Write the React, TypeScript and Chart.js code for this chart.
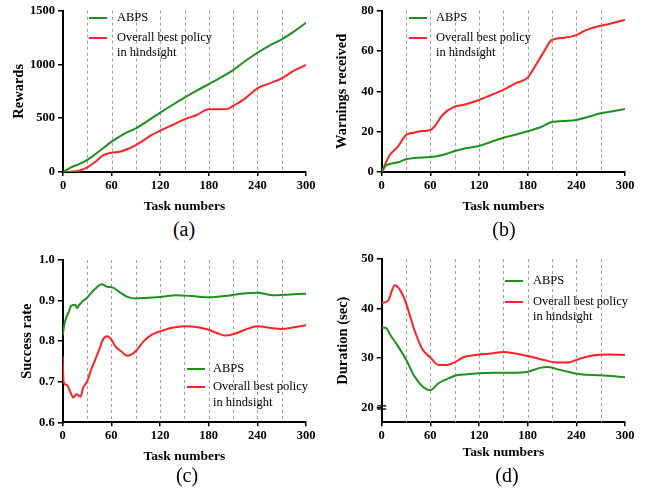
import { useEffect, useRef } from "react";
import { Chart, registerables } from "chart.js";

Chart.register(...registerables);

// ---------------- DATA ----------------
const X_TICKS = [0, 60, 120, 180, 240, 300];
const DASHED_LINES = [30, 60, 90, 120, 150, 180, 210, 240, 270];
const SERIES_NAMES = ["ABPS", "Overall best policy", "in hindsight"];

// (a) Rewards
const A_ABPS_TASKS = [0, 10, 20, 30, 45, 60, 75, 90, 105, 120, 135, 150, 165, 180, 195, 210, 225, 240, 255, 270, 285, 300];
const A_ABPS = [0, 43, 74, 112, 195, 282, 353, 406, 477, 552, 623, 691, 756, 818, 880, 948, 1032, 1109, 1176, 1233, 1305, 1388];
const A_RED_TASKS = [0, 10, 20, 30, 40, 50, 60, 70, 80, 90, 100, 110, 120, 135, 150, 165, 180, 195, 205, 210, 225, 240, 255, 270, 285, 300];
const A_RED = [0, 3, 12, 43, 96, 158, 180, 189, 214, 251, 297, 347, 384, 437, 490, 530, 583, 583, 592, 614, 685, 778, 824, 871, 942, 995];
const A_Y_TICKS = [0, 500, 1000, 1500];

// (b) Warnings received
const B_ABPS_TASKS = [0, 5, 10, 20, 30, 40, 60, 75, 90, 105, 120, 135, 150, 165, 180, 195, 210, 225, 240, 255, 270, 285, 300];
const B_ABPS = [0, 3.1, 4, 4.8, 6.3, 7, 7.4, 8.4, 10.4, 11.9, 12.9, 15, 17, 18.5, 20.2, 22.1, 24.8, 25.3, 25.8, 27.4, 29.1, 30.1, 31.2];
const B_RED_TASKS = [0, 10, 20, 30, 40, 50, 60, 65, 75, 90, 100, 120, 135, 150, 165, 180, 190, 200, 210, 225, 240, 250, 265, 280, 300];
const B_RED = [0, 8.4, 12.6, 18.3, 19.5, 20.3, 20.8, 22.5, 28.3, 32.4, 33.2, 35.7, 38.2, 40.7, 44, 46.8, 53, 59.7, 65.5, 66.6, 67.9, 70, 72, 73.4, 75.4];
const B_Y_TICKS = [0, 20, 40, 60, 80];

// (c) Success rate
const C_ABPS_TASKS = [0, 2, 5, 8, 10, 15, 18, 20, 25, 30, 40, 48, 55, 62, 70, 80, 90, 105, 120, 140, 160, 180, 200, 220, 240, 260, 280, 300];
const C_ABPS = [0.814, 0.841, 0.861, 0.874, 0.886, 0.89, 0.882, 0.888, 0.899, 0.907, 0.929, 0.94, 0.934, 0.932, 0.921, 0.909, 0.905, 0.907, 0.909, 0.913, 0.911, 0.908, 0.911, 0.917, 0.919, 0.913, 0.915, 0.917];
const C_RED_TASKS = [0, 1, 5, 10, 13, 17, 22, 25, 30, 35, 40, 45, 50, 55, 60, 65, 72, 80, 90, 100, 110, 120, 135, 150, 165, 180, 190, 200, 210, 225, 240, 255, 270, 285, 300];
const C_RED = [0.762, 0.7, 0.692, 0.672, 0.661, 0.669, 0.663, 0.684, 0.7, 0.729, 0.754, 0.779, 0.805, 0.812, 0.804, 0.787, 0.775, 0.764, 0.775, 0.8, 0.816, 0.824, 0.833, 0.837, 0.835, 0.828, 0.82, 0.814, 0.817, 0.828, 0.837, 0.833, 0.83, 0.834, 0.839];
const C_Y_TICKS = [0.6, 0.7, 0.8, 0.9, 1.0];

// (d) Duration (sec)
const D_ABPS_TASKS = [0, 5, 10, 20, 30, 40, 50, 60, 70, 80, 90, 105, 120, 140, 160, 180, 195, 205, 215, 230, 245, 270, 300];
const D_ABPS = [36.1, 36.1, 34.8, 32.4, 29.7, 26.4, 24.3, 23.5, 24.9, 25.7, 26.4, 26.7, 26.9, 27.0, 27.0, 27.2, 28.0, 28.2, 27.8, 27.2, 26.7, 26.5, 26.1];
const D_RED_TASKS = [0, 8, 16, 22, 30, 40, 50, 60, 70, 80, 90, 100, 120, 135, 150, 165, 180, 200, 215, 230, 245, 260, 280, 300];
const D_RED = [41.1, 41.6, 44.7, 43.9, 41.1, 35.8, 31.8, 30.1, 28.6, 28.6, 29.1, 30.1, 30.7, 30.9, 31.2, 30.9, 30.4, 29.6, 29.1, 29.1, 29.9, 30.5, 30.7, 30.6];
const D_Y_TICKS = [20, 30, 40, 50];

// ---------------- STYLE / LAYOUT ----------------
const GREEN = "#1f8f1f";
const RED = "#ff2222";
const FONT = "'Liberation Serif', 'Times New Roman', serif";
const Y_TITLE_SIZE = 14.5;

type PanelSpec = {
  key: string;
  caption: string;
  yTitle: string;
  canvas: { left: number; top: number; width: number; height: number };
  area: { left: number; top: number; right: number; bottom: number };
  yTitleX: number;
  yMin: number;
  yMax: number;
  yTicks: number[];
  yFmt: (v: number) => string;
  green: [number[], number[]];
  red: [number[], number[]];
  legend: { sx: number; tx: number; y1: number; y2: number; y3: number };
  captionPos: { x: number; y: number };
  axisBreak?: number;
};

const PANELS: PanelSpec[] = [
  {
    key: "a",
    caption: "(a)",
    yTitle: "Rewards",
    canvas: { left: 0, top: 0, width: 322, height: 215 },
    area: { left: 63, top: 10.7, right: 306, bottom: 172 },
    yTitleX: 19,
    yMin: 0,
    yMax: 1500,
    yTicks: A_Y_TICKS,
    yFmt: (v) => String(v),
    green: [A_ABPS_TASKS, A_ABPS],
    red: [A_RED_TASKS, A_RED],
    legend: { sx: 89, tx: 117, y1: 18, y2: 38, y3: 53 },
    captionPos: { x: 184, y: 229 },
  },
  {
    key: "b",
    caption: "(b)",
    yTitle: "Warnings received",
    canvas: { left: 320, top: 0, width: 322, height: 215 },
    area: { left: 381.7, top: 10.7, right: 625, bottom: 172 },
    yTitleX: 342,
    yMin: 0,
    yMax: 80,
    yTicks: B_Y_TICKS,
    yFmt: (v) => String(v),
    green: [B_ABPS_TASKS, B_ABPS],
    red: [B_RED_TASKS, B_RED],
    legend: { sx: 409, tx: 436, y1: 18, y2: 38, y3: 53 },
    captionPos: { x: 504, y: 229 },
  },
  {
    key: "c",
    caption: "(c)",
    yTitle: "Success rate",
    canvas: { left: 0, top: 245, width: 322, height: 220 },
    area: { left: 62.7, top: 260, right: 306, bottom: 422.3 },
    yTitleX: 27,
    yMin: 0.6,
    yMax: 1.0,
    yTicks: C_Y_TICKS,
    yFmt: (v) => v.toFixed(1),
    green: [C_ABPS_TASKS, C_ABPS],
    red: [C_RED_TASKS, C_RED],
    legend: { sx: 187, tx: 213, y1: 369, y2: 387, y3: 403 },
    captionPos: { x: 187, y: 475 },
  },
  {
    key: "d",
    caption: "(d)",
    yTitle: "Duration (sec)",
    canvas: { left: 320, top: 245, width: 322, height: 216 },
    area: { left: 381.7, top: 259, right: 625, bottom: 422.3 },
    yTitleX: 343,
    yMin: 17,
    yMax: 50,
    yTicks: D_Y_TICKS,
    yFmt: (v) => String(v),
    green: [D_ABPS_TASKS, D_ABPS],
    red: [D_RED_TASKS, D_RED],
    legend: { sx: 505, tx: 533, y1: 281, y2: 302, y3: 317 },
    captionPos: { x: 507, y: 475 },
    axisBreak: 20,
  },
];

function toPoints(xs: number[], ys: number[]) {
  return xs.map((x, i) => ({ x, y: ys[i] }));
}

function Panel({ spec }: { spec: PanelSpec }) {
  const ref = useRef<HTMLCanvasElement | null>(null);

  useEffect(() => {
    const canvas = ref.current;
    if (!canvas) return;
    const c = spec.canvas;
    const a = spec.area;
    const yTitleLH = Y_TITLE_SIZE * 1.2;

    const overlay = {
      id: "overlay_" + spec.key,
      beforeDatasetsDraw(chart: any) {
        const ctx = chart.ctx;
        const { top, bottom } = chart.chartArea;
        const xs = chart.scales.x;
        ctx.save();
        ctx.strokeStyle = "#a0a0a0";
        ctx.lineWidth = 1;
        ctx.setLineDash([3, 3]);
        DASHED_LINES.forEach((v) => {
          const px = Math.round(xs.getPixelForValue(v)) + 0.5;
          ctx.beginPath();
          ctx.moveTo(px, top);
          ctx.lineTo(px, bottom);
          ctx.stroke();
        });
        ctx.restore();
      },
      afterDraw(chart: any) {
        const ctx = chart.ctx;
        const L = spec.legend;
        ctx.save();
        ctx.lineWidth = 2;
        ctx.setLineDash([]);
        const lines: [number, string][] = [
          [L.y1, GREEN],
          [L.y2, RED],
        ];
        lines.forEach(([y, col]) => {
          ctx.strokeStyle = col;
          ctx.beginPath();
          ctx.moveTo(L.sx - c.left, y - c.top);
          ctx.lineTo(L.sx + 18 - c.left, y - c.top);
          ctx.stroke();
        });
        ctx.fillStyle = "#000";
        ctx.font = "12.5px " + FONT;
        ctx.textBaseline = "middle";
        ctx.textAlign = "left";
        ctx.fillText(SERIES_NAMES[0], L.tx - c.left, L.y1 - c.top);
        ctx.fillText(SERIES_NAMES[1], L.tx - c.left, L.y2 - c.top);
        ctx.fillText(SERIES_NAMES[2], L.tx - c.left, L.y3 - c.top);

        if (spec.axisBreak !== undefined) {
          const ys = chart.scales.y;
          const py = ys.getPixelForValue(spec.axisBreak);
          const lx = chart.chartArea.left;
          ctx.strokeStyle = "#000";
          ctx.lineWidth = 1.3;
          [py - 1.6, py + 1.6].forEach((yy) => {
            ctx.beginPath();
            ctx.moveTo(lx - 4.5, yy);
            ctx.lineTo(lx + 4.5, yy);
            ctx.stroke();
          });
        }
        ctx.restore();
      },
    };

    const chart = new Chart(canvas, {
      type: "line",
      data: {
        datasets: [
          {
            label: SERIES_NAMES[0],
            data: toPoints(spec.green[0], spec.green[1]),
            borderColor: GREEN,
            backgroundColor: GREEN,
            borderWidth: 2,
            pointRadius: 0,
            cubicInterpolationMode: "monotone",
          },
          {
            label: SERIES_NAMES[1] + " " + SERIES_NAMES[2],
            data: toPoints(spec.red[0], spec.red[1]),
            borderColor: RED,
            backgroundColor: RED,
            borderWidth: 2,
            pointRadius: 0,
            cubicInterpolationMode: "monotone",
          },
        ],
      },
      options: {
        animation: false,
        responsive: false,
        events: [],
        layout: {
          padding: {
            left: 0,
            top: a.top - c.top,
            right: c.left + c.width - a.right,
            bottom: 0,
          },
        },
        plugins: {
          legend: { display: false },
          tooltip: { enabled: false },
          title: { display: false },
        },
        scales: {
          x: {
            type: "linear",
            min: 0,
            max: 300,
            afterFit: (scale: any) => {
              scale.height = c.top + c.height - a.bottom;
            },
            afterBuildTicks: (scale: any) => {
              scale.ticks = X_TICKS.map((v) => ({ value: v }));
            },
            grid: {
              drawOnChartArea: false,
              drawTicks: true,
              tickLength: 4,
              color: "#000",
              lineWidth: 1.5,
            },
            border: { display: true, color: "#000", width: 2 },
            ticks: {
              color: "#000",
              padding: 2,
              maxRotation: 0,
              font: { family: FONT, size: 12.5, weight: "bold" },
            },
            title: {
              display: true,
              text: "Task numbers",
              color: "#000",
              padding: { top: 0, bottom: 0 },
              font: { family: FONT, size: 13.5, weight: "bold" },
            },
          },
          y: {
            type: "linear",
            min: spec.yMin,
            max: spec.yMax,
            afterFit: (scale: any) => {
              scale.width = a.left - c.left;
            },
            afterBuildTicks: (scale: any) => {
              scale.ticks = spec.yTicks.map((v) => ({ value: v }));
            },
            grid: {
              drawOnChartArea: false,
              drawTicks: true,
              tickLength: 5,
              color: "#000",
              lineWidth: 1.5,
            },
            border: { display: true, color: "#000", width: 2 },
            ticks: {
              color: "#000",
              padding: 3,
              callback: (v: any) => spec.yFmt(Number(v)),
              font: { family: FONT, size: 12.5, weight: "bold" },
            },
            title: {
              display: true,
              text: spec.yTitle,
              color: "#000",
              padding: { top: spec.yTitleX - c.left - yTitleLH / 2, bottom: 0 },
              font: { family: FONT, size: Y_TITLE_SIZE, weight: "bold" },
            },
          },
        },
      } as any,
      plugins: [overlay],
    });

    return () => chart.destroy();
  }, [spec]);

  return (
    <>
      <canvas
        ref={ref}
        width={spec.canvas.width}
        height={spec.canvas.height}
        style={{
          position: "absolute",
          left: spec.canvas.left,
          top: spec.canvas.top,
          width: spec.canvas.width,
          height: spec.canvas.height,
        }}
      />
      <div
        style={{
          position: "absolute",
          left: spec.captionPos.x,
          top: spec.captionPos.y,
          transform: "translate(-50%, -50%)",
          fontFamily: FONT,
          fontSize: 20,
          lineHeight: 1,
          color: "#000",
          whiteSpace: "nowrap",
        }}
      >
        {spec.caption}
      </div>
    </>
  );
}

export default function App() {
  return (
    <div
      style={{
        position: "fixed",
        left: 0,
        top: 0,
        width: 645,
        height: 493,
        background: "#fff",
        overflow: "hidden",
      }}
    >
      {PANELS.map((p) => (
        <Panel key={p.key} spec={p} />
      ))}
    </div>
  );
}
